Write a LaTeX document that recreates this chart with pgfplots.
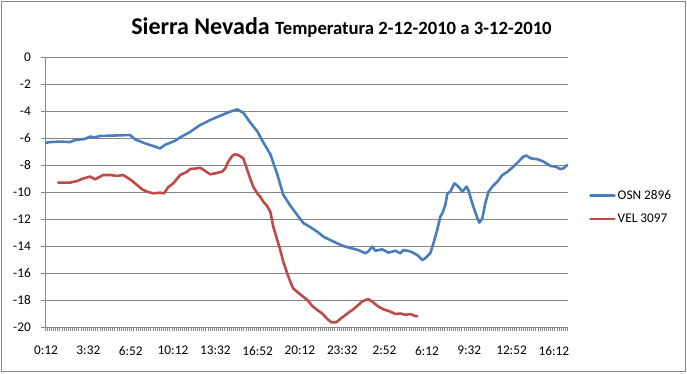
\documentclass[border=0pt]{standalone}
\usepackage{fontspec}
\setmainfont{Carlito}
\usepackage{pgfplots}
\pgfplotsset{compat=1.18}
\definecolor{osn}{HTML}{4A7EBB}
\definecolor{vel}{HTML}{BE4B48}
\definecolor{gridc}{HTML}{868686}
\begin{document}
\begin{tikzpicture}[x=1bp,y=1bp]
\useasboundingbox (0,0) rectangle (687,373);
\draw[gridc, line width=0.9bp] (1.5,2) rectangle (685,371.5);
\node[anchor=base, inner sep=0pt] at (341.5,339) {\bfseries\fontsize{24bp}{26bp}\selectfont Sierra Nevada \fontsize{18.7bp}{20bp}\selectfont Temperatura 2-12-2010 a 3-12-2010};
\begin{axis}[
 at={(45bp,46bp)}, anchor=south west,
 scale only axis, width=523bp, height=270bp,
 xmin=-0.5, xmax=246.7, ymin=-20, ymax=0,
 axis x line*=bottom, axis y line*=left,
 axis line style={gridc, line width=0.9bp, -},
 ytick={-20,-18,...,0},
 yticklabels={-20,-18,-16,-14,-12,-10,-8,-6,-4,-2,0},
 ymajorgrids, grid style={gridc, line width=0.9bp},
 xtick={0,20,...,240},
 xticklabels={0:12,3:32,6:52,10:12,13:32,16:52,20:12,23:32,2:52,6:12,9:32,12:52,16:12},
 minor xtick={-0.5,0.5,...,246.5},
 tick align=outside,
 major tick length=4bp, minor tick length=4bp,
 tick style={gridc, line width=0.8bp},
 major x tick style={draw=none},
 ticklabel style={font=\fontsize{13.3bp}{15bp}\selectfont, text=black},
 yticklabel style={inner sep=0pt, xshift=-10bp},
 xticklabel style={inner sep=0pt, yshift=-15bp},
 legend style={at={(1.04,0.444)}, anchor=west, draw=none, fill=none, font=\fontsize{13.3bp}{15bp}\selectfont, row sep=9bp, inner sep=0pt},
 legend cell align=left,
 legend image code/.code={\draw[#1] (0bp,0bp) -- (24bp,0bp);},
 every axis plot/.append style={line width=2.6bp, line join=round, line cap=round},
]
\addplot[osn] coordinates {
(0,-6.35) (1.9,-6.3) (6.6,-6.27) (11.4,-6.3) (13.7,-6.15) (18.4,-6.07) (20.8,-5.9) (23.2,-5.95) (25.5,-5.85) (30.3,-5.83) (35.0,-5.8) (39.7,-5.78) (42.1,-6.1) (46.8,-6.4) (51.6,-6.64) (53.9,-6.77) (56.3,-6.5) (61.0,-6.2) (63.4,-5.95) (68.1,-5.55) (72.8,-5.04) (77.6,-4.67) (82.3,-4.35) (87.0,-4.05) (90.3,-3.88) (93.2,-4.12) (96.5,-4.85) (99.8,-5.5) (102.6,-6.3) (106.0,-7.2) (109.3,-8.7) (112.1,-10.2) (115.4,-11.0) (118.7,-11.7) (121.6,-12.3) (124.9,-12.6) (128.2,-12.94) (131.0,-13.3) (134.3,-13.56) (137.6,-13.8) (140.5,-14.0) (143.8,-14.15) (147.6,-14.3) (150.9,-14.54) (152.3,-14.4) (154.2,-14.05) (155.6,-14.35) (158.9,-14.25) (161.8,-14.49) (165.1,-14.35) (167.4,-14.54) (168.9,-14.3) (172.2,-14.4) (175.5,-14.67) (177.8,-15.04) (179.3,-14.9) (181.6,-14.54) (183.1,-13.8) (184.9,-12.8) (186.4,-11.8) (187.3,-11.58) (188.7,-10.96) (189.7,-10.1) (191.1,-9.98) (193.0,-9.36) (194.9,-9.6) (196.8,-9.98) (198.7,-9.6) (199.6,-9.85) (201.0,-10.6) (202.0,-11.1) (203.9,-11.95) (204.8,-12.27) (206.2,-11.95) (207.6,-10.84) (209.1,-9.98) (211.0,-9.6) (213.3,-9.23) (215.7,-8.74) (218.1,-8.5) (220.9,-8.12) (223.3,-7.75) (225.6,-7.38) (227.0,-7.3) (228.9,-7.5) (232.2,-7.57) (235.1,-7.75) (238.4,-8.07) (240.8,-8.12) (243.1,-8.3) (244.5,-8.25) (246.4,-8.0)
};
\addlegendentry{OSN 2896}
\addplot[vel] coordinates {
(5.7,-9.3) (11.4,-9.3) (14.7,-9.19) (17.5,-9.0) (20.8,-8.86) (23.2,-9.06) (27.0,-8.74) (30.3,-8.74) (33.6,-8.81) (36.4,-8.74) (39.7,-9.06) (43.0,-9.48) (45.4,-9.8) (47.8,-9.98) (50.6,-10.1) (53.9,-10.05) (55.8,-10.1) (57.7,-9.65) (60.1,-9.36) (63.4,-8.74) (66.7,-8.5) (68.1,-8.3) (71.4,-8.25) (72.8,-8.2) (75.2,-8.44) (77.6,-8.69) (79.9,-8.62) (83.2,-8.5) (84.7,-8.25) (86.1,-7.75) (88.0,-7.33) (89.4,-7.2) (91.3,-7.3) (93.2,-7.5) (95.1,-8.37) (96.5,-9.0) (97.9,-9.6) (99.8,-10.1) (101.2,-10.35) (102.6,-10.7) (104.5,-11.04) (106.0,-11.46) (107.4,-12.57) (109.3,-13.56) (110.7,-14.3) (112.1,-15.16) (114.0,-16.02) (115.4,-16.64) (116.8,-17.14) (118.7,-17.4) (121.1,-17.7) (123.5,-18.0) (125.8,-18.44) (128.2,-18.74) (130.5,-19.0) (132.9,-19.4) (134.8,-19.65) (137.2,-19.65) (139.5,-19.35) (142.4,-19.0) (145.2,-18.69) (147.6,-18.37) (149.5,-18.1) (150.9,-18.0) (152.3,-17.95) (154.2,-18.12) (156.6,-18.44) (159.4,-18.69) (162.7,-18.86) (165.1,-19.04) (167.4,-19.0) (169.8,-19.1) (172.2,-19.04) (174.5,-19.19) (175.5,-19.2)
};
\addlegendentry{VEL 3097}
\end{axis}
\end{tikzpicture}
\end{document}
